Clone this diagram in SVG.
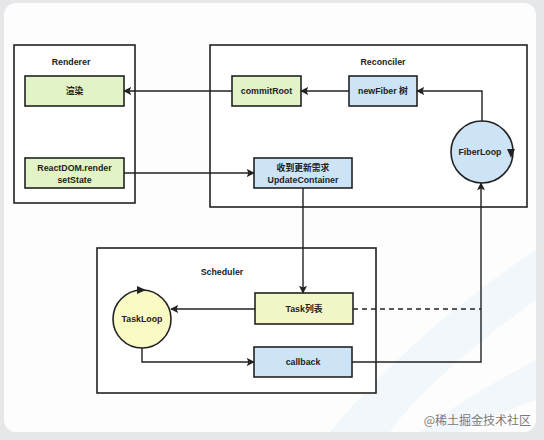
<svg xmlns="http://www.w3.org/2000/svg" width="544" height="440" viewBox="0 0 544 440">
<style>
.t{font-family:"Liberation Sans","Noto Sans CJK SC",sans-serif;font-size:8.8px;font-weight:bold;fill:#222;text-anchor:middle}
.cont{fill:#fff;stroke:#222;stroke-width:1.6}
.box{stroke:#222;stroke-width:1.6}
.green{fill:#e2f3c7}
.blue{fill:#cde4f7}
.yellow{fill:#f3f7c8}
.ln{fill:none;stroke:#222;stroke-width:1.4}
.dash{stroke-dasharray:5 4}
</style>
<defs>
<marker id="ah" viewBox="0 0 10 10" refX="9" refY="5" markerWidth="8" markerHeight="8" orient="auto" markerUnits="userSpaceOnUse">
<path d="M0,0 L10,5 L0,10 L2,5 z" fill="#222"/>
</marker>
</defs>
<rect x="0" y="0" width="544" height="440" fill="#e6e7e8"/>
<rect x="4" y="3" width="532" height="429" rx="12" fill="#fdfdfd"/>
<path d="M330,432 C390,360 460,300 536,250 L536,300 C480,340 420,390 390,432 Z" fill="#f1f7fb"/>
<path d="M420,432 C460,400 500,380 536,360 L536,400 C510,410 480,420 460,432 Z" fill="#f1f7fb"/>

<g id="renderer">
<rect class="cont" x="14" y="45" width="121" height="158"/>
<text class="t" x="71" y="65">Renderer</text>
</g>
<g id="reconciler">
<rect class="cont" x="210" y="45" width="317" height="162"/>
<text class="t" x="383" y="65">Reconciler</text>
</g>
<g id="scheduler">
<rect class="cont" x="97" y="248" width="279" height="145"/>
<text class="t" x="222" y="275">Scheduler</text>
</g>

<g id="render-node">
<rect class="box green" x="25" y="76" width="99" height="30"/>
<text class="t" x="74.5" y="94">渲染</text>
</g>
<g id="reactdom-node">
<rect class="box green" x="25" y="158" width="99" height="30"/>
<text class="t" x="74.5" y="171">ReactDOM.render</text>
<text class="t" x="74.5" y="183">setState</text>
</g>
<g id="commitroot-node">
<rect class="box green" x="232" y="76" width="69" height="30"/>
<text class="t" x="266.5" y="94">commitRoot</text>
</g>
<g id="newfiber-node">
<rect class="box blue" x="349" y="76" width="68" height="30"/>
<text class="t" x="383" y="94">newFiber 树</text>
</g>
<g id="updatecontainer-node">
<rect class="box blue" x="254" y="158" width="98" height="30"/>
<text class="t" x="303" y="171">收到更新需求</text>
<text class="t" x="303" y="183">UpdateContainer</text>
</g>
<g id="fiberloop-node">
<circle class="box blue" cx="482" cy="152" r="31"/>
<text class="t" x="480" y="155">FiberLoop</text>
<path d="M507,149 L515,149 L511,158 Z" fill="#222"/>
</g>
<g id="tasklist-node">
<rect class="box yellow" x="255" y="293" width="98" height="31"/>
<text class="t" x="304" y="312">Task列表</text>
</g>
<g id="callback-node">
<rect class="box blue" x="254" y="347" width="98" height="30"/>
<text class="t" x="303" y="365">callback</text>
</g>
<g id="taskloop-node">
<circle class="box" fill="#fafac4" cx="142" cy="319" r="29"/>
<text class="t" x="142" y="322">TaskLoop</text>
<path d="M137,286 L146,290 L137,294 Z" fill="#222"/>
</g>

<g id="connectors">
<path class="ln" d="M232,91 H124" marker-end="url(#ah)"/>
<path class="ln" d="M349,91 H301" marker-end="url(#ah)"/>
<path class="ln" d="M482,121 V91 H417" marker-end="url(#ah)"/>
<path class="ln" d="M124,173 H254" marker-end="url(#ah)"/>
<path class="ln" d="M303,188 V293" marker-end="url(#ah)"/>
<path class="ln" d="M255,309 H171" marker-end="url(#ah)"/>
<path class="ln" d="M142,348 V362 H254" marker-end="url(#ah)"/>
<path class="ln" d="M352,362 H481 V183" marker-end="url(#ah)"/>
<path class="ln dash" d="M353,309 H481"/>
</g>

<text x="531" y="425" font-family="'Noto Sans CJK SC','Liberation Sans',sans-serif" font-size="12" fill="#7a7a7a" text-anchor="end">@稀土掘金技术社区</text>
</svg>
